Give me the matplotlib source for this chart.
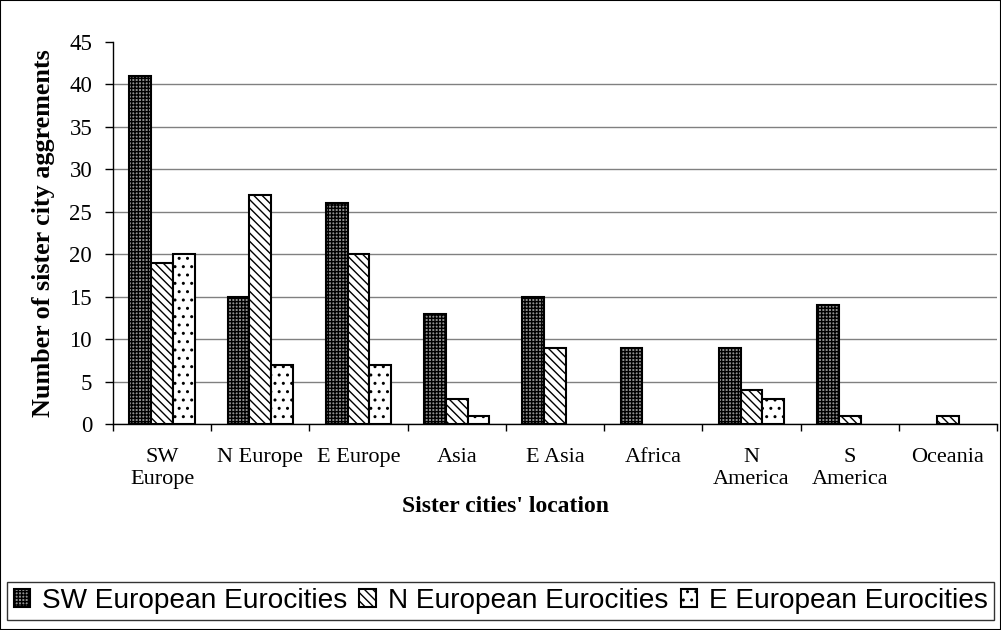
import numpy as np
import matplotlib.pyplot as plt
from matplotlib.patches import Rectangle

plt.rcParams['hatch.linewidth'] = 1.0

regions = ["SW\nEurope", "N Europe", "E Europe", "Asia", "E Asia", "Africa",
           "N\nAmerica", "S\nAmerica", "Oceania"]
sw_euro = [41, 15, 26, 13, 15, 9, 9, 14, 0]
n_euro = [19, 27, 20, 3, 9, 0, 4, 1, 1]
e_euro = [20, 7, 7, 1, 0, 0, 3, 0, 0]
series_names = ["SW European Eurocities", "N European Eurocities", "E European Eurocities"]

fig = plt.figure(figsize=(10.01, 6.3), dpi=100)
ax = fig.add_axes([113/1001, 1-424/630, 884/1001, 382/630])

x = np.arange(len(regions))
w = 0.222
styles = [
    dict(facecolor="#909090", hatch="+++++"),
    dict(facecolor="white", hatch="\\\\\\\\"),
    dict(facecolor="white", hatch=".."),
]
for i, (vals, st) in enumerate(zip([sw_euro, n_euro, e_euro], styles)):
    vals = np.array(vals, dtype=float)
    keep = vals > 0  # empty categories get no bar at all
    ax.bar(x[keep] + (i - 1) * w, vals[keep], w, edgecolor="black", linewidth=1.5,
           label=series_names[i], zorder=3, **st)

ax.set_xlim(-0.5, len(regions) - 0.5)
ax.set_ylim(0, 45)
ax.set_yticks(range(0, 46, 5))
ax.yaxis.grid(True, color="#808080", linewidth=1, zorder=0)
ax.yaxis.get_major_ticks()[-1].gridline.set_visible(False)
ax.set_xticks(np.arange(-0.5, len(regions), 1))
ax.set_xticklabels([])
ax.set_xticks(x, minor=True)
ax.set_xticklabels(regions, minor=True, fontfamily="Liberation Serif", fontsize=16,
                   linespacing=1.25, va="top")
ax.tick_params(axis="x", which="minor", length=0, pad=17)
ax.tick_params(axis="x", which="major", length=5, width=1, direction="out")
ax.tick_params(axis="y", length=6, width=1, direction="out", pad=9)
for lab in ax.get_yticklabels():
    lab.set_fontfamily("Liberation Serif")
    lab.set_fontsize(16.5)
for s in ["top", "right"]:
    ax.spines[s].set_visible(False)
for s in ["left", "bottom"]:
    ax.spines[s].set_linewidth(1)

fig.text(506/1001, 1-507/630, "Sister cities' location", ha="center", va="center",
         fontfamily="Liberation Serif", fontweight="bold", fontsize=17)
fig.text(44/1001, 1-233/630, "Number of sister city aggrements", ha="center", va="center",
         rotation=90, fontfamily="Liberation Serif", fontweight="bold", fontsize=18.8)

leg = fig.legend(loc="center", bbox_to_anchor=(0.5, 1-601/630), ncol=3,
                 prop=dict(family="Liberation Sans", size=20.2), frameon=True,
                 fancybox=False, edgecolor="black", handlelength=0.6, handleheight=0.6,
                 handletextpad=0.4, columnspacing=0.45, borderpad=0.22, borderaxespad=0)
leg.get_frame().set_linewidth(1)

fig.patches.append(Rectangle((0, 0), 1, 1, transform=fig.transFigure, fill=False,
                             edgecolor="black", linewidth=1.5))

fig.savefig("out.png", dpi=100)
